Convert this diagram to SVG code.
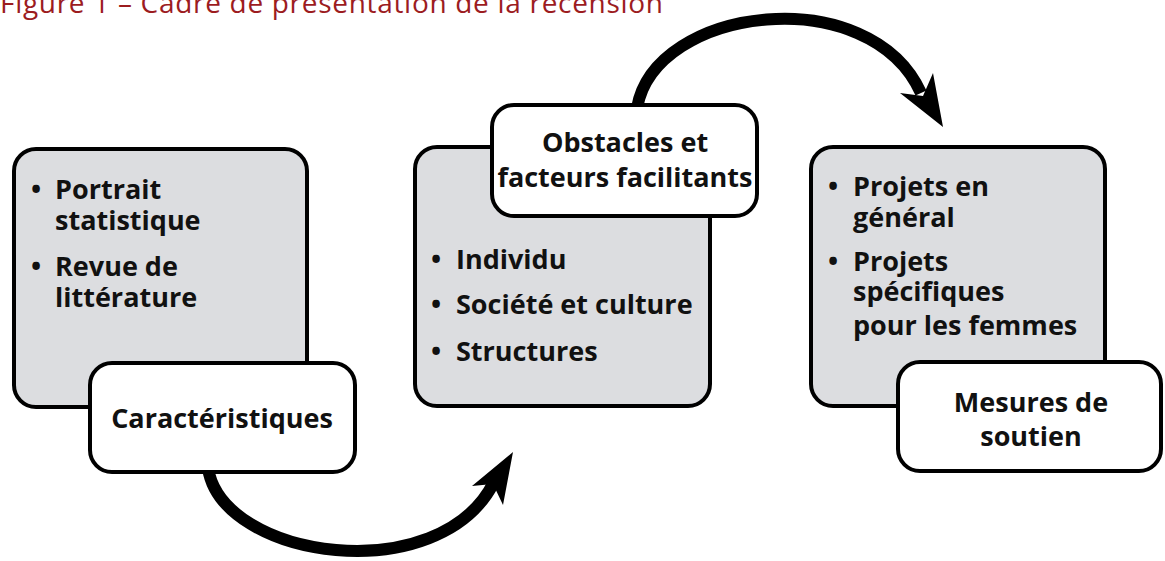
<svg xmlns="http://www.w3.org/2000/svg" width="1165" height="561" viewBox="0 0 1165 561">
<style>
.bg{fill:#dcdde0;stroke:#000;stroke-width:4}
.lb{fill:#fff;stroke:#000;stroke-width:4}
text{font-family:"Open Sans","Noto Sans","Liberation Sans",sans-serif;font-weight:bold;font-size:27px;fill:#111}
.c{text-anchor:middle}
.title{font-weight:normal;font-size:28px;fill:#9c1c1f}
.arc{fill:none;stroke:#000;stroke-width:12}
.head{fill:#000}
</style>
<rect width="1165" height="561" fill="#fff"/>
<text class="title" x="0" y="13" textLength="663">Figure 1 – Cadre de présentation de la recension</text>

<g id="connectors">
<path class="arc" d="M208,468 C222,560 440,590 494,482"/>
<polygon class="head" points="513,452 503,505 493,484 472,486"/>
<path class="arc" d="M637,108 C655,5 870,-20 921,93"/>
<polygon class="head" points="943,127 900,93 923,96 933,73"/>
</g>

<g id="node1">
<rect class="bg" x="14" y="149" width="293" height="258" rx="22"/>
<text x="31" y="199">•</text>
<text x="55" y="199">Portrait<tspan x="55" dy="31">statistique</tspan></text>
<text x="31" y="276">•</text>
<text x="55" y="276">Revue de<tspan x="55" dy="31">littérature</tspan></text>
</g>
<g id="label1">
<rect class="lb" x="90" y="363" width="265" height="109" rx="22"/>
<text class="c" x="222" y="428">Caractéristiques</text>
</g>

<g id="node2">
<rect class="bg" x="415" y="147" width="295" height="259" rx="22"/>
<text x="431" y="269">•</text>
<text x="456" y="269">Individu</text>
<text x="431" y="314">•</text>
<text x="456" y="314">Société et culture</text>
<text x="431" y="361">•</text>
<text x="456" y="361">Structures</text>
</g>
<g id="label2">
<rect class="lb" x="492" y="105" width="265" height="111" rx="22"/>
<text class="c" x="625" y="152">Obstacles et<tspan x="625" dy="35">facteurs facilitants</tspan></text>
</g>

<g id="node3">
<rect class="bg" x="811" y="147" width="294" height="259" rx="22"/>
<text x="828" y="196">•</text>
<text x="853" y="196">Projets en<tspan x="853" dy="31">général</tspan></text>
<text x="828" y="271">•</text>
<text x="853" y="271">Projets<tspan x="853" dy="30">spécifiques</tspan><tspan x="853" dy="34">pour les femmes</tspan></text>
</g>
<g id="label3">
<rect class="lb" x="898" y="362" width="263" height="109" rx="22"/>
<text class="c" x="1031" y="412">Mesures de<tspan x="1031" dy="34">soutien</tspan></text>
</g>
</svg>
